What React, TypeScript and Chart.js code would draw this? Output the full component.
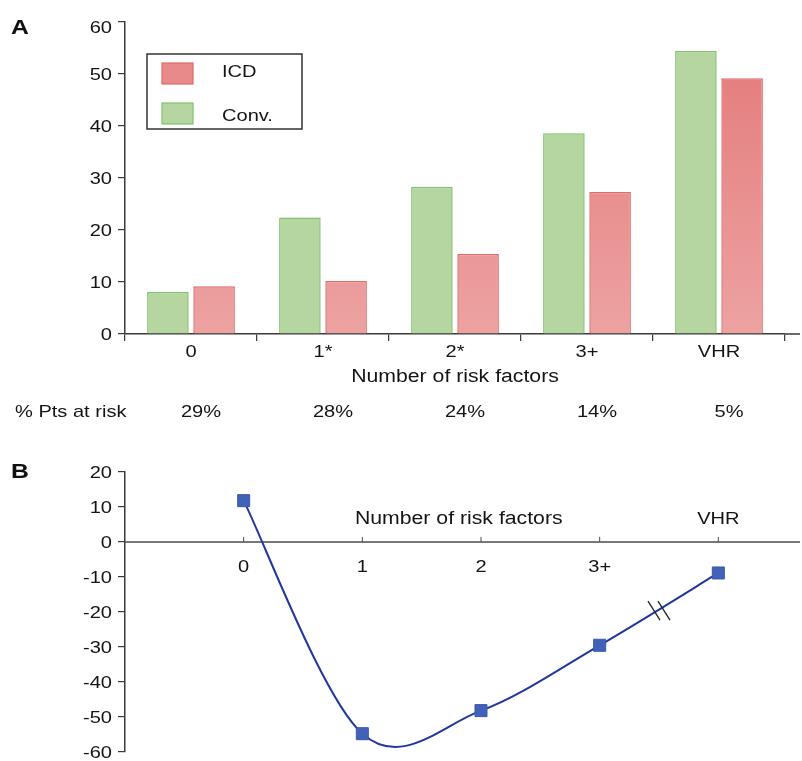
import React, { useEffect, useRef } from 'react';
import { Chart, registerables } from 'chart.js';

Chart.register(...registerables);

// ---- Panel A data ----
const categoriesA = ['0', '1*', '2*', '3+', 'VHR'];
const convValues = [8.1, 22.4, 28.3, 38.6, 54.4];
const icdValues = [9.2, 10.2, 15.4, 27.3, 49.2];
const ptsAtRisk = ['29%', '28%', '24%', '14%', '5%'];
const yTicksA = [0, 10, 20, 30, 40, 50, 60];

// ---- Panel B data ----
const categoriesB = ['0', '1', '2', '3+', 'VHR'];
const xPositionsB = [0, 1, 2, 3, 4];
const diffValues = [11.8, -54.9, -48.3, -29.6, -8.9];
const yTicksB = [20, 10, 0, -10, -20, -30, -40, -50, -60];

const FONT = "'Liberation Sans', Arial, Helvetica, sans-serif";
const TEXT = '#141414';
const AXIS = '#3a3a3a';
const SX = 1.18; // horizontal stretch of the original artwork's lettering

function drawText(ctx: CanvasRenderingContext2D, text: string, x: number, cy: number, size: number, align: CanvasTextAlign, bold = false, color = TEXT) {
  ctx.save();
  ctx.font = `${bold ? 'bold ' : ''}${size}px ${FONT}`;
  ctx.fillStyle = color;
  ctx.textAlign = align;
  ctx.textBaseline = 'alphabetic';
  ctx.translate(x, cy + size * 0.36);
  ctx.scale(SX, 1);
  ctx.fillText(text, 0, 0);
  ctx.restore();
}

function drawYLabels(chart: any, values: number[], topInset: number) {
  const { ctx, chartArea, scales } = chart;
  const ys = scales.y;
  values.forEach((v) => {
    const py = Math.max(ys.getPixelForValue(v), chartArea.top + topInset);
    drawText(ctx, String(v), chartArea.left - 13, py, 17, 'right');
  });
}

const panelAPlugin = {
  id: 'panelA',
  afterDraw(chart: any) {
    const { ctx, chartArea, scales } = chart;
    const xs = scales.x;
    ctx.save();
    ctx.strokeStyle = AXIS;
    ctx.lineWidth = 1.5;
    ctx.beginPath();
    ctx.moveTo(chartArea.right, chartArea.bottom);
    ctx.lineTo(chart.width - 2, chartArea.bottom);
    ctx.stroke();
    ctx.restore();

    drawText(ctx, 'A', 11, 26, 21, 'left', true, '#111');
    drawYLabels(chart, yTicksA, 5);

    categoriesA.forEach((c, i) => {
      drawText(ctx, c, xs.getPixelForValue(i), chartArea.bottom + 17, 17, 'center');
    });
    drawText(ctx, 'Number of risk factors', (chartArea.left + chartArea.right) / 2, chartArea.bottom + 42, 18, 'center');

    const rowY = chartArea.bottom + 77;
    drawText(ctx, '% Pts at risk', 15, rowY, 17, 'left');
    ptsAtRisk.forEach((t, i) => {
      drawText(ctx, t, xs.getPixelForValue(i) + 10, rowY, 17, 'center');
    });

    // legend
    const lx = chartArea.left + 22;
    const ly = chartArea.top + 32;
    ctx.save();
    ctx.strokeStyle = '#333';
    ctx.lineWidth = 1.5;
    ctx.strokeRect(lx, ly, 155, 75);
    const items = [chart.data.datasets[1], chart.data.datasets[0]];
    items.forEach((ds: any, i: number) => {
      const sy = ly + 9 + i * 40;
      ctx.fillStyle = i === 0 ? '#e88a8a' : ds.backgroundColor;
      ctx.fillRect(lx + 15, sy, 31, 21);
      ctx.strokeStyle = ds.borderColor;
      ctx.lineWidth = 1.2;
      ctx.strokeRect(lx + 15, sy, 31, 21);
      drawText(ctx, ds.label, lx + 75, ly + 17 + i * 44, 17, 'left');
    });
    ctx.restore();
  },
};

const panelBPlugin = {
  id: 'panelB',
  beforeDatasetsDraw(chart: any) {
    const { ctx, chartArea, scales } = chart;
    const xs = scales.x;
    const ys = scales.y;
    const y0 = ys.getPixelForValue(0);
    ctx.save();
    ctx.strokeStyle = '#4a4a4a';
    ctx.lineWidth = 1.5;
    ctx.beginPath();
    ctx.moveTo(chartArea.left, y0);
    ctx.lineTo(chart.width - 2, y0);
    ctx.stroke();
    ctx.lineWidth = 1;
    xPositionsB.forEach((v) => {
      const px = xs.getPixelForValue(v);
      ctx.beginPath();
      ctx.moveTo(px, y0);
      ctx.lineTo(px, y0 - 5);
      ctx.stroke();
    });
    ctx.restore();

    categoriesB.forEach((t, i) => {
      const px = xs.getPixelForValue(xPositionsB[i]);
      const above = i === categoriesB.length - 1;
      drawText(ctx, t, px, above ? y0 - 24 : y0 + 24, 17, 'center');
    });
    drawText(ctx, 'Number of risk factors', (chartArea.left + chartArea.right) / 2, y0 - 24, 18, 'center');
    drawText(ctx, 'B', 11, 40, 21, 'left', true, '#111');
    drawYLabels(chart, yTicksB, 0);
  },
  beforeDatasetDraw(chart: any, args: any) {
    // Excel-style smoothing: uniform Catmull-Rom control points
    const meta = args.meta;
    const line = meta.dataset;
    if (!line) return;
    line.updateControlPoints(chart.chartArea, meta.iScale.axis);
    const pts = meta.data;
    for (let i = 0; i < pts.length; i++) {
      const p = pts[i];
      const prev = pts[i - 1] || p;
      const next = pts[i + 1] || p;
      const dx = (next.x - prev.x) / 6;
      const dy = (next.y - prev.y) / 6;
      p.cp1x = p.x - dx;
      p.cp1y = p.y - dy;
      p.cp2x = p.x + dx;
      p.cp2y = p.y + dy;
    }
    line._pointsUpdated = true;
    line._path = undefined;
  },
  afterDraw(chart: any) {
    const { ctx, scales } = chart;
    const xs = scales.x;
    const ys = scales.y;
    const n = xPositionsB.length;
    const xm = (xPositionsB[n - 2] + xPositionsB[n - 1]) / 2;
    const ym = (diffValues[n - 2] + diffValues[n - 1]) / 2;
    const cx = xs.getPixelForValue(xm);
    const cy = ys.getPixelForValue(ym) + 2;
    ctx.save();
    ctx.strokeStyle = '#222';
    ctx.lineWidth = 1.3;
    [-5, 5].forEach((off) => {
      ctx.beginPath();
      ctx.moveTo(cx + off - 6, cy - 10);
      ctx.lineTo(cx + off + 6, cy + 9);
      ctx.stroke();
    });
    ctx.restore();
  },
};

export default function App() {
  const refA = useRef<HTMLCanvasElement>(null);
  const refB = useRef<HTMLCanvasElement>(null);

  useEffect(() => {
    document.body.style.margin = '0';
    const redGradient = (c: any) => {
      const { chart } = c;
      const area = chart.chartArea;
      if (!area) return '#e88a8a';
      const g = chart.ctx.createLinearGradient(0, area.top, 0, area.bottom);
      g.addColorStop(0, '#e37878');
      g.addColorStop(1, '#eda2a2');
      return g;
    };

    const axisCommon = {
      grid: { drawOnChartArea: false, drawTicks: true, tickLength: 7, color: AXIS, lineWidth: 1.2 },
      border: { color: AXIS, width: 1.5 },
    };

    const chartA = new Chart(refA.current as HTMLCanvasElement, {
      type: 'bar',
      data: {
        labels: categoriesA,
        datasets: [
          { label: 'Conv.', data: convValues, backgroundColor: '#b5d6a0', borderColor: '#80c26c', borderWidth: 1.5 },
          { label: 'ICD', data: icdValues, backgroundColor: redGradient as any, borderColor: '#e06a6a', borderWidth: 1.5 },
        ],
      },
      options: {
        responsive: false,
        animation: false,
        layout: { padding: { top: 22, right: 17, left: 0, bottom: 0 } },
        datasets: { bar: { categoryPercentage: 0.7, barPercentage: 0.9 } },
        plugins: { legend: { display: false }, tooltip: { enabled: false } },
        scales: {
          x: {
            grid: { ...axisCommon.grid, offset: true },
            border: axisCommon.border,
            ticks: { display: false },
            afterFit: (s: any) => { s.height = 106; },
          },
          y: {
            min: 0,
            max: 60,
            afterBuildTicks: (s: any) => { s.ticks = yTicksA.map((v) => ({ value: v })); },
            ticks: { display: false },
            ...axisCommon,
            afterFit: (s: any) => { s.width = 125; },
          },
        },
      },
      plugins: [panelAPlugin],
    } as any);

    const chartB = new Chart(refB.current as HTMLCanvasElement, {
      type: 'line',
      data: {
        datasets: [
          {
            label: 'Difference',
            data: xPositionsB.map((x, i) => ({ x, y: diffValues[i] })),
            borderColor: '#22379b',
            borderWidth: 2,
            tension: 0.4,
            pointStyle: 'rect',
            pointRadius: 8.5,
            pointBackgroundColor: '#4262b8',
            pointBorderColor: '#3a58b0',
            pointBorderWidth: 1,
          },
        ],
      },
      options: {
        responsive: false,
        animation: false,
        layout: { padding: { top: 42, right: 2, bottom: 9, left: 0 } },
        plugins: { legend: { display: false }, tooltip: { enabled: false } },
        scales: {
          x: { type: 'linear', min: -1, max: 4.625, display: false },
          y: {
            min: -60,
            max: 20,
            afterBuildTicks: (s: any) => { s.ticks = yTicksB.map((v) => ({ value: v })); },
            ticks: { display: false },
            ...axisCommon,
            afterFit: (s: any) => { s.width = 125; },
          },
        },
      },
      plugins: [panelBPlugin],
    } as any);

    return () => {
      chartA.destroy();
      chartB.destroy();
    };
  }, []);

  return (
    <div style={{ position: 'relative', width: 802, height: 761, background: '#fff' }}>
      <canvas ref={refA} width={802} height={440} style={{ position: 'absolute', left: 0, top: 0 }} />
      <canvas ref={refB} width={802} height={331} style={{ position: 'absolute', left: 0, top: 430 }} />
    </div>
  );
}
